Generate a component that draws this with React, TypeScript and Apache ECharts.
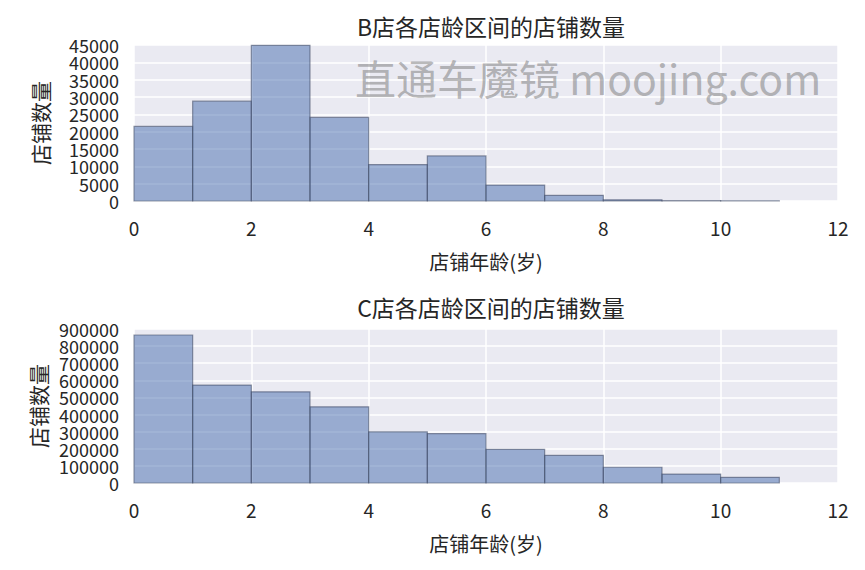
import React, { useEffect, useRef } from "react";
import * as echarts from "echarts";

const binStarts = [0, 1, 2, 3, 4, 5, 6, 7, 8, 9, 10];
const bValues = [21500, 28800, 44900, 24100, 10500, 13000, 4600, 1650, 350, 80, 50];
const cValues = [865000, 572000, 533000, 445000, 299000, 289000, 197000, 162000, 92000, 52000, 33000];
const titleB = "B店各店龄区间的店铺数量";
const titleC = "C店各店龄区间的店铺数量";
const xName = "店铺年龄(岁)";
const yName = "店铺数量";
const watermark = "直通车魔镜 moojing.com";

const FONT = "'Noto Sans CJK SC', 'Noto Sans', sans-serif";
const TEXT = "#262626";

function histData(vals: number[]) {
  return binStarts.map((s, i) => [s, s + 1, vals[i]]);
}

function renderItem(params: any, api: any) {
  const x0 = api.value(0);
  const x1 = api.value(1);
  const v = api.value(2);
  const p0 = api.coord([x0, 0]);
  const p1 = api.coord([x1, v]);
  return {
    type: "rect",
    shape: { x: p0[0], y: p1[1], width: p1[0] - p0[0], height: p0[1] - p1[1] },
    style: {
      fill: "rgba(76,114,176,0.52)",
      stroke: "rgba(60,70,95,0.55)",
      lineWidth: 1.2,
    },
  };
}

export default function App() {
  const ref = useRef<HTMLDivElement>(null);
  useEffect(() => {
    if (!ref.current) return;
    const chart = echarts.init(ref.current, undefined, { renderer: "svg" });
    const xAxisBase = (gi: number) => ({
      type: "value",
      gridIndex: gi,
      min: 0,
      max: 12,
      interval: 2,
      name: xName,
      nameLocation: "middle",
      nameGap: 50,
      nameTextStyle: { fontFamily: FONT, fontSize: 20, color: TEXT },
      axisLine: { show: false },
      axisTick: { show: false },
      axisLabel: {
        fontFamily: FONT,
        fontSize: 19,
        color: TEXT,
        margin: 17,
        showMinLabel: true,
        showMaxLabel: true,
        formatter: (v: number) => String(v),
      },
      splitLine: { show: true, lineStyle: { color: "#ffffff", width: 1.5 } },
    });
    const labelStyle = {
      fontFamily: FONT,
      fontSize: 18,
      color: TEXT,
      margin: 15,
      lineHeight: 12,
      hideOverlap: false,
    };
    // main axis: grid lines, name and the inner tick labels
    const yAxisMain = (gi: number, max: number, interval: number) => ({
      type: "value",
      gridIndex: gi,
      position: "left",
      min: 0,
      max,
      interval,
      name: yName,
      nameLocation: "middle",
      nameGap: 84,
      nameRotate: 90,
      nameTextStyle: { fontFamily: FONT, fontSize: 21, color: TEXT },
      axisLine: { show: false },
      axisTick: { show: false },
      axisLabel: {
        ...labelStyle,
        showMinLabel: false,
        showMaxLabel: false,
        formatter: (v: number) => String(v),
      },
      splitLine: { show: true, lineStyle: { color: "#ffffff", width: 1.5 } },
    });
    // companion axis on the same scale: only the end tick labels
    const yAxisEnds = (gi: number, max: number, interval: number) => ({
      type: "value",
      gridIndex: gi,
      position: "left",
      offset: 0,
      min: 0,
      max,
      interval,
      axisLine: { show: false },
      axisTick: { show: false },
      splitLine: { show: false },
      axisLabel: {
        ...labelStyle,
        showMinLabel: true,
        showMaxLabel: true,
        formatter: (v: number) => (v === 0 || v === max ? String(v) : ""),
      },
    });
    chart.setOption({
      animation: false,
      backgroundColor: "#ffffff",
      title: [
        {
          text: titleB,
          left: 486,
          top: 9,
          textAlign: "center",
          textStyle: { fontFamily: FONT, fontSize: 23, fontWeight: "normal", color: TEXT },
        },
        {
          text: titleC,
          left: 486,
          top: 290,
          textAlign: "center",
          textStyle: { fontFamily: FONT, fontSize: 23, fontWeight: "normal", color: TEXT },
        },
      ],
      grid: [
        { left: 134, top: 45, width: 704, height: 156, show: true, backgroundColor: "#EAEAF2", borderWidth: 0 },
        { left: 134, top: 329, width: 704, height: 154, show: true, backgroundColor: "#EAEAF2", borderWidth: 0 },
      ],
      xAxis: [xAxisBase(0), xAxisBase(1)],
      yAxis: [
        yAxisMain(0, 45000, 5000),
        yAxisMain(1, 900000, 100000),
        yAxisEnds(0, 45000, 5000),
        yAxisEnds(1, 900000, 100000),
      ],
      series: [
        {
          type: "custom",
          xAxisIndex: 0,
          yAxisIndex: 0,
          renderItem,
          encode: { x: [0, 1], y: 2 },
          data: histData(bValues),
        },
        {
          type: "custom",
          xAxisIndex: 1,
          yAxisIndex: 1,
          renderItem,
          encode: { x: [0, 1], y: 2 },
          data: histData(cValues),
        },
      ],
      graphic: [
        {
          type: "text",
          x: 355,
          y: 77,
          z: 100,
          style: {
            text: watermark,
            fontFamily: FONT,
            fontSize: 41,
            fill: "rgba(120,120,120,0.52)",
            verticalAlign: "middle",
          },
        },
      ],
    });
    return () => chart.dispose();
  }, []);
  return (
    <div
      ref={ref}
      style={{ position: "fixed", left: 0, top: 0, width: 865, height: 570 }}
    />
  );
}
